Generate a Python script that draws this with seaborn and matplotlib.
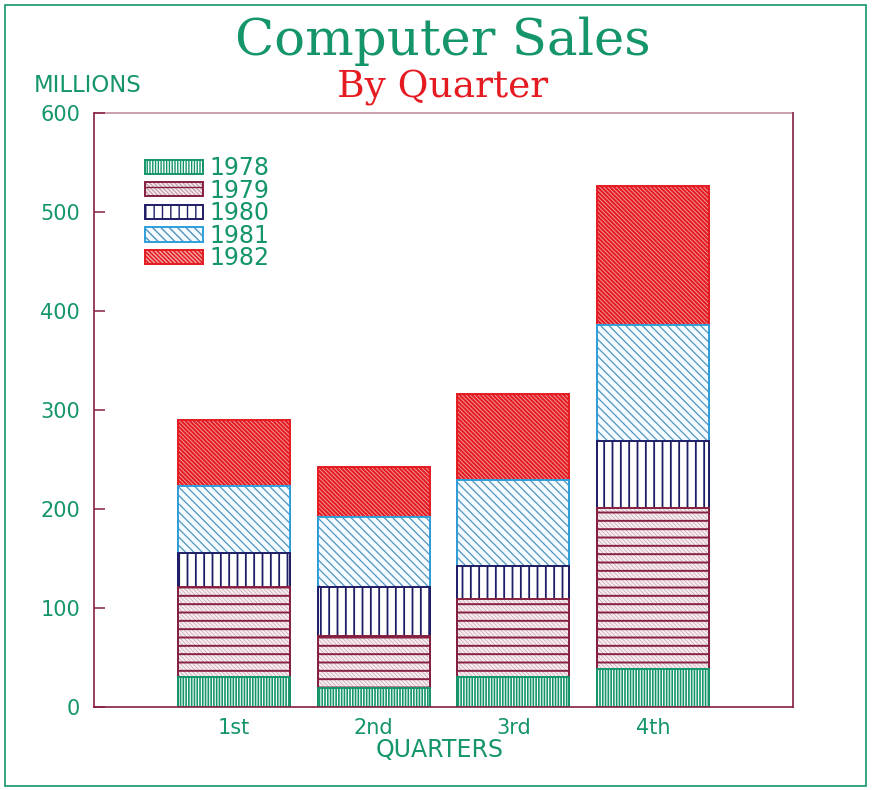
import numpy as np
import pandas as pd
import matplotlib
matplotlib.use("Agg")
import matplotlib.pyplot as plt
import seaborn as sns
from matplotlib.patches import Patch, Rectangle
from matplotlib.legend_handler import HandlerTuple

# Sales in millions, one list per year, one value per quarter
quarters = ["1st", "2nd", "3rd", "4th"]
years = ["1978", "1979", "1980", "1981", "1982"]
sales_1978 = [30, 19, 30, 38]
sales_1979 = [91, 53, 79, 163]
sales_1980 = [35, 49, 33, 68]
sales_1981 = [67, 71, 87, 117]
sales_1982 = [67, 50, 87, 140]
y_ticks = [0, 100, 200, 300, 400, 500, 600]

GREEN = "#14956a"
RED = "#e51b22"
MAROON = "#86203f"
NAVY = "#1e1d66"
BLUE = "#2d9fdc"

# Each year is drawn as a stack of passes: (face, hatch colour, hatch, hatch lw)
# followed by an outline in the segment's edge colour.
styles = {
    "1978": dict(passes=[(GREEN, "white", "||||||", 0.8)], edge=GREEN),
    "1979": dict(passes=[("#f7eef1", "#c8a3b0", "\\" * 8, 0.5),
                         ("none", MAROON, "--", 1.4)], edge=MAROON),
    "1980": dict(passes=[("white", NAVY, "||", 1.3)], edge=NAVY),
    "1981": dict(passes=[("#f5fbfe", "#4f95c0", "\\" * 4, 0.9)], edge=BLUE),
    "1982": dict(passes=[(RED, "#f4a6a6", "\\" * 8, 0.6)], edge=RED),
}

sns.set_theme(style="white")
plt.rcParams["font.family"] = ["DejaVu Sans"]

W, H = 872, 790
fig = plt.figure(figsize=(W / 100, H / 100), dpi=100)
fig.patch.set_facecolor("white")
ax = fig.add_axes([94 / W, 1 - 707 / H, (793 - 94) / W, (707 - 113) / H])
ax.set_facecolor("white")

layers = [sales_1978, sales_1979, sales_1980, sales_1981, sales_1982]
tops = np.cumsum(np.array(layers), axis=0)

# Draw cumulative totals from the top year down so lower segments sit on top
for i in reversed(range(len(years))):
    st = styles[years[i]]
    df = pd.DataFrame({"quarter": quarters, "total": tops[i]})
    for face, hcol, hatch, hlw in st["passes"]:
        with plt.rc_context({"hatch.linewidth": hlw}):
            if face == "none":
                sns.barplot(data=df, x="quarter", y="total", order=quarters,
                            fill=False, color=hcol, hatch=hatch, linewidth=0,
                            width=0.8, errorbar=None, ax=ax)
            else:
                sns.barplot(data=df, x="quarter", y="total", order=quarters,
                            color=face, saturation=1, edgecolor=hcol,
                            hatch=hatch, linewidth=0, width=0.8,
                            errorbar=None, ax=ax)
    sns.barplot(data=df, x="quarter", y="total", order=quarters,
                fill=False, color=st["edge"], linewidth=1.4,
                width=0.8, errorbar=None, ax=ax)

ax.set_xlim(-1, 4)
ax.set_ylim(0, 600)
ax.set_yticks(y_ticks)
ax.set_yticklabels([str(t) for t in y_ticks])
ax.set_xlabel("")
ax.set_ylabel("")

for side in ["left", "right", "bottom", "top"]:
    ax.spines[side].set_visible(True)
    ax.spines[side].set_color(MAROON)
    ax.spines[side].set_linewidth(1.2)
ax.spines["top"].set_alpha(0.5)

ax.tick_params(axis="y", direction="in", length=8, width=1.1, color=MAROON,
               pad=10, labelsize=15, labelcolor=GREEN, left=True)
ax.tick_params(axis="x", length=0, pad=8, labelsize=15, labelcolor=GREEN)

# Legend
handles = []
for y in years:
    st = styles[y]
    parts = []
    for face, hcol, hatch, hlw in st["passes"]:
        with plt.rc_context({"hatch.linewidth": hlw}):
            if face == "none":
                parts.append(Patch(facecolor="none", edgecolor=hcol, hatch=hatch, linewidth=0))
            else:
                parts.append(Patch(facecolor=face, edgecolor=hcol, hatch=hatch, linewidth=0))
    parts.append(Patch(facecolor="none", edgecolor=st["edge"], linewidth=1.4))
    handles.append(tuple(parts))

leg = ax.legend(handles, years, handler_map={tuple: HandlerTuple(ndivide=1, pad=0)},
                loc="upper left", bbox_to_anchor=(145 / W, 1 - 156 / H),
                bbox_transform=fig.transFigure, frameon=False, borderpad=0,
                borderaxespad=0, fontsize=17, handlelength=2.45, handleheight=0.55,
                handletextpad=0.3, labelspacing=-0.06)
for t in leg.get_texts():
    t.set_color(GREEN)

# Titles and axis captions
fig.text(443 / W, 1 - 55 / H, "Computer Sales", color=GREEN, fontsize=37,
         family="DejaVu Serif", ha="center", va="baseline")
fig.text(443 / W, 1 - 97 / H, "By Quarter", color=RED, fontsize=27,
         family="DejaVu Serif", ha="center", va="baseline")
fig.text(88 / W, 1 - 86 / H, "MILLIONS", color=GREEN, fontsize=16.4,
         ha="center", va="center")
fig.text(440 / W, 1 - 750 / H, "QUARTERS", color=GREEN, fontsize=17,
         ha="center", va="center")

# Outer frame
fig.add_artist(Rectangle((5 / W, 1 - 786 / H), (866 - 5) / W, (786 - 5) / H,
                         transform=fig.transFigure, fill=False,
                         edgecolor=GREEN, linewidth=1.2))

fig.savefig("out.png", dpi=100)
